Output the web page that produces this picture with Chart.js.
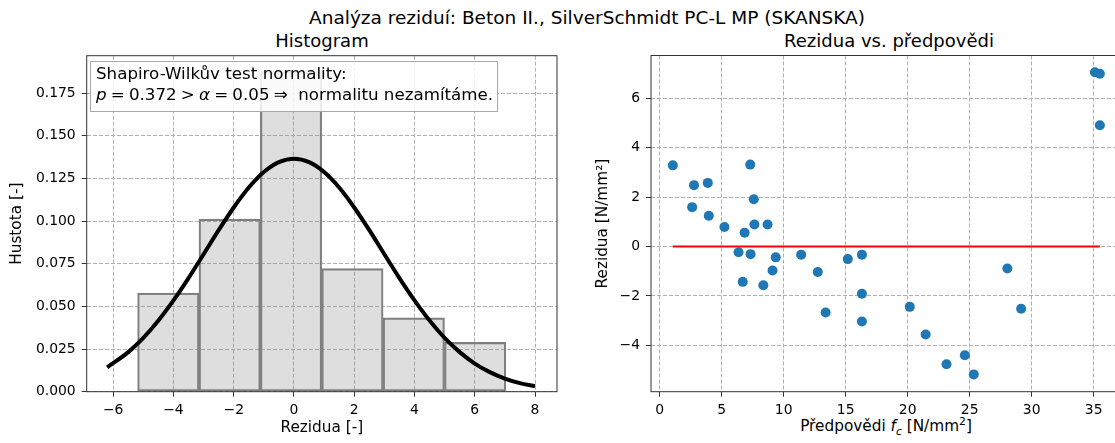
<!doctype html>
<html lang="cs">
<head>
<meta charset="utf-8">
<title>Analýza reziduí</title>
<script src="https://cdn.jsdelivr.net/npm/chart.js@4/dist/chart.umd.min.js"></script>
<style>
body { margin: 0; width: 1115px; height: 443px; overflow: hidden; background: #fff; position: relative; font-family: 'DejaVu Sans', sans-serif; color: #000; }
canvas { position: absolute; top: 0; }
.t { position: absolute; white-space: nowrap; transform: translateX(-50%); line-height: 1; }
#box { position: absolute; left: 90px; top: 61px; width: 408px; height: 51px; box-sizing: border-box; border: 1.5px solid #a8a8a8; background: rgba(255,255,255,0.85); font-size: 16.7px; line-height: 21px; padding: 1px 0 0 5px; white-space: nowrap; }
sub, sup { font-size: 70%; line-height: 0; }
</style>
</head>
<body>
<div class="t" style="left:587px;top:9px;font-size:18.5px">Analýza reziduí: Beton II., SilverSchmidt PC-L MP (SKANSKA)</div>
<div class="t" style="left:322px;top:32px;font-size:18px">Histogram</div>
<div class="t" style="left:889px;top:32px;font-size:18px">Rezidua vs. předpovědi</div>
<div class="t" style="left:886px;top:419px;font-size:15.3px">Předpovědi <i>f</i><sub><i>c</i></sub> [N/mm<sup>2</sup>]</div>
<canvas id="hist" width="580" height="443" style="left:0"></canvas>
<canvas id="resid" width="545" height="443" style="left:585px"></canvas>
<div id="box">Shapiro-Wilkův test normality:<br><i>p</i>&#8197;=&#8197;0.372&#8197;&gt;&#8197;<i>α</i>&#8197;=&#8197;0.05&#8197;⇒&nbsp; normalitu nezamítáme.</div>
<script>
// histogram (density) of residuals
const binEdges = [-5.19, -3.153, -1.116, 0.921, 2.958, 4.995, 7.032];
const density = [0.0578, 0.1011, 0.1877, 0.0722, 0.0433, 0.0289];

// fitted normal curve
const curveX = [-6.2, -5.5, -5, -4.5, -4, -3.5, -3, -2.5, -2, -1.5, -1, -0.5, 0, 0.5, 1, 1.5, 2, 2.5, 3, 3.5, 4, 4.5, 5, 5.5, 6, 6.5, 7, 7.5, 8.0];
const curveY = [0.0143, 0.0232, 0.0315, 0.0417, 0.0535, 0.0666, 0.0806, 0.0947, 0.108, 0.1197, 0.1288, 0.1346, 0.1366, 0.1346, 0.1288, 0.1197, 0.108, 0.0947, 0.0806, 0.0666, 0.0535, 0.0417, 0.0315, 0.0232, 0.0165, 0.0115, 0.0077, 0.005, 0.0032];

// residuals vs predictions
const pred = [1.06, 2.77, 3.88, 7.30, 7.59, 2.62, 3.96, 35.1, 35.5, 35.5, 5.22, 6.85, 7.64, 8.70, 6.36, 7.33, 9.36, 11.41, 15.17, 16.31, 9.10, 12.75, 6.70, 8.36, 16.31, 13.38, 16.31, 20.17, 21.45, 23.13, 24.61, 25.33, 28.04, 29.15];
const resid = [3.28, 2.48, 2.57, 3.31, 1.91, 1.59, 1.24, 7.04, 6.98, 4.90, 0.79, 0.56, 0.89, 0.89, -0.23, -0.31, -0.44, -0.33, -0.51, -0.33, -0.97, -1.03, -1.43, -1.57, -1.91, -2.67, -3.03, -2.44, -3.56, -4.76, -4.40, -5.17, -0.89, -2.52];
const zeroX = [1.06, 35.5];
const zeroY = [0, 0];

Chart.defaults.font.family = "'DejaVu Sans', sans-serif";
Chart.defaults.font.size = 13.9;
Chart.defaults.color = '#000';

const minus = v => String(v).replace('-', '\u2212');

// matplotlib-ish box round the plot area
const frame = {
  id: 'frame',
  afterDatasetsDraw(chart) {
    const a = chart.chartArea, c = chart.ctx;
    c.save();
    c.strokeStyle = '#333';
    c.lineWidth = 1;
    c.strokeRect(a.left, a.top, a.right - a.left, a.bottom - a.top);
    c.restore();
  }
};

function axis(min, max, step, fmt, extra) {
  return Object.assign({
    type: 'linear', min: min, max: max, offset: false,
    grid: { offset: false, color: '#b0b0b0', lineWidth: 1, tickColor: '#333', tickLength: 5, tickWidth: 1 },
    border: { display: false, dash: [4, 2] },
    ticks: { stepSize: step, includeBounds: false, padding: 5, maxRotation: 0, autoSkip: false, callback: fmt }
  }, extra);
}

const labelFont = { size: 15.3 };
const centers = density.map((d, i) => (binEdges[i] + binEdges[i + 1]) / 2);

new Chart(document.getElementById('hist'), {
  type: 'bar',
  data: {
    datasets: [
      {
        type: 'line',
        data: curveX.map((x, i) => ({ x: x, y: curveY[i] })),
        borderColor: '#000', borderWidth: 4, pointRadius: 0,
        cubicInterpolationMode: 'monotone', order: 0
      },
      {
        type: 'bar',
        data: centers.map((x, i) => ({ x: x, y: density[i] })),
        backgroundColor: 'rgba(128,128,128,0.26)', borderColor: '#808080', borderWidth: 1.5,
        borderSkipped: false, barThickness: 'flex', barPercentage: 1, categoryPercentage: 1, order: 1
      }
    ]
  },
  options: {
    responsive: false, animation: false,
    layout: { padding: { left: 0, right: 23, top: 55.7, bottom: 0 } },
    plugins: { legend: { display: false }, tooltip: { enabled: false } },
    scales: {
      x: axis(-6.88, 8.73, 2, v => minus(v), {
        title: { display: true, text: 'Rezidua [-]', font: labelFont, padding: { top: 0, bottom: 5.8 } },
        afterFit: s => { s.height = 51.3; }
      }),
      y: axis(0, 0.197, 0.025, v => v.toFixed(3), {
        ticks: { stepSize: 0.025, includeBounds: false, padding: 6, callback: v => v.toFixed(3) },
        title: { display: true, text: 'Hustota [-]', font: labelFont, padding: { top: 8, bottom: 0 } },
        afterFit: s => { s.width = 86.7; }
      })
    }
  },
  plugins: [frame]
});

new Chart(document.getElementById('resid'), {
  type: 'scatter',
  data: {
    datasets: [
      {
        type: 'line',
        data: zeroX.map((x, i) => ({ x: x, y: zeroY[i] })),
        borderColor: '#ff0000', borderWidth: 1.8, pointRadius: 0, order: 0
      },
      {
        data: pred.map((x, i) => ({ x: x, y: resid[i] })),
        backgroundColor: '#1f77b4', borderWidth: 0, pointRadius: 5, order: 1
      }
    ]
  },
  options: {
    responsive: false, animation: false,
    layout: { padding: { left: 0, right: 8.3, top: 55.5, bottom: 0 } },
    plugins: { legend: { display: false }, tooltip: { enabled: false } },
    scales: {
      x: axis(-0.70, 37.26, 5, v => minus(v), {
        title: { display: false },
        afterFit: s => { s.height = 51.3; }
      }),
      y: axis(-5.87, 7.72, 2, v => minus(v), {
        ticks: { stepSize: 2, includeBounds: false, padding: 6, callback: v => minus(v) },
        title: { display: true, text: 'Rezidua [N/mm²]', font: labelFont, padding: { top: 8.5, bottom: 0 } },
        afterFit: s => { s.width = 66; }
      })
    }
  },
  plugins: [frame]
});
</script>
</body>
</html>
